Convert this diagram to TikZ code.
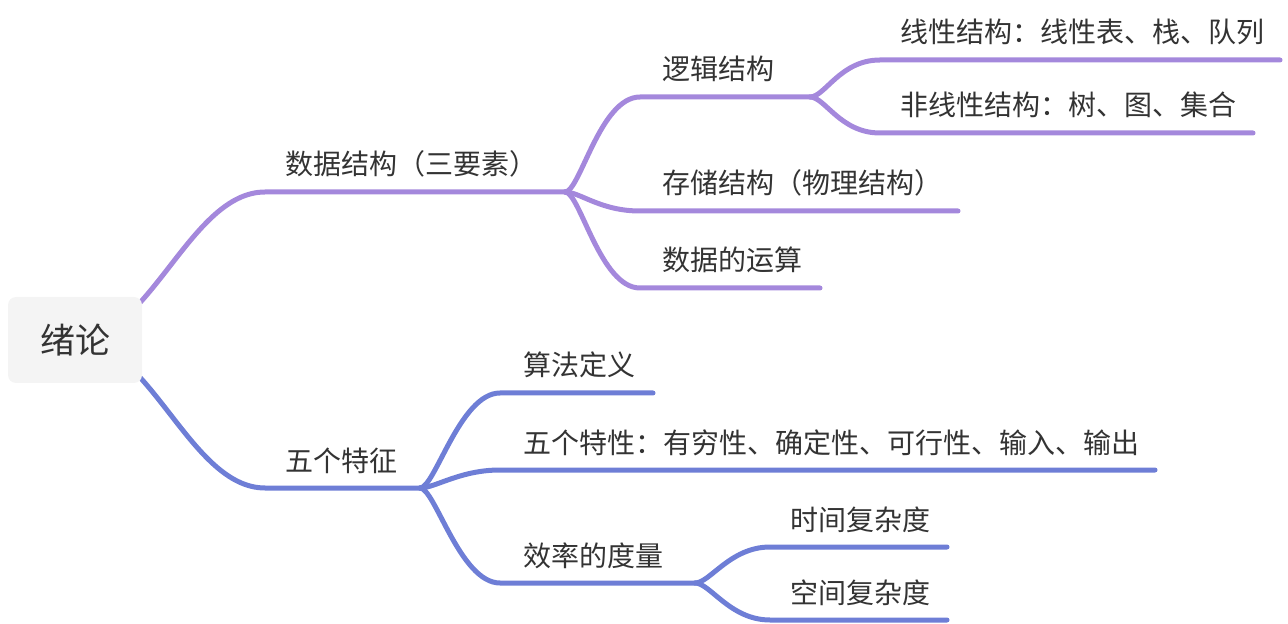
\documentclass[tikz,border=0pt]{standalone}
\usepackage{fontspec}
\setmainfont{Noto Sans CJK SC}
\usetikzlibrary{positioning}
\definecolor{purp}{RGB}{164,136,220}
\definecolor{blu}{RGB}{110,126,214}
\definecolor{txt}{RGB}{51,51,51}
\definecolor{boxfill}{RGB}{244,244,244}

\tikzset{
  topic/.style={anchor=base west, inner sep=0pt, text=txt, font=\fontsize{14}{16}\selectfont},
  rootbox/.style={fill=boxfill, rounded corners=4pt, minimum width=67pt, minimum height=43pt,
    text=txt, font=\fontsize{17.5}{20}\selectfont},
  purpline/.style={draw=purp, line width=2.5pt, line cap=round},
  blueline/.style={draw=blu, line width=2.5pt, line cap=round}
}

\begin{document}
\begin{tikzpicture}[x=0.5pt, y=-0.5pt]
  \useasboundingbox (0,0) rectangle (1288,624);
  \coordinate (rootc) at (75,340);

  % first level
  \coordinate (dsS) at (265,192);  \coordinate (dsE) at (565,192);
  \coordinate (fcS) at (265,488);  \coordinate (fcE) at (420,488);
  \node[topic] (ds) at (285,175) {数据结构（三要素）};
  \node[topic] (fc) at (285,471) {五个特征};

  % data structure
  \coordinate (ljS) at (640,97);   \coordinate (ljE) at (810,97);
  \coordinate (ccS) at (640,211);  \coordinate (ccE) at (958,211);
  \coordinate (ysS) at (640,288);  \coordinate (ysE) at (820,288);
  \node[topic] (lj) at (662,80)  {逻辑结构};
  \node[topic] (cc) at (662,194) {存储结构（物理结构）};
  \node[topic] (ys) at (662,271) {数据的运算};

  \coordinate (xxS) at (880,60);   \coordinate (xxE) at (1280,60);
  \coordinate (fxS) at (880,133);  \coordinate (fxE) at (1253,133);
  \node[topic] (xx) at (900,43)  {线性结构：线性表、栈、队列};
  \node[topic] (fx) at (900,116) {非线性结构：树、图、集合};

  % five features
  \coordinate (dyS) at (500,393);  \coordinate (dyE) at (653,393);
  \coordinate (txS) at (500,470);  \coordinate (txE) at (1155,470);
  \coordinate (xlS) at (500,583);  \coordinate (xlE) at (695,583);
  \node[topic] (dy) at (523,376) {算法定义};
  \node[topic] (tx) at (523,453) {五个特性：有穷性、确定性、可行性、输入、输出};
  \node[topic] (xl) at (523,566) {效率的度量};

  \coordinate (sjS) at (770,547);  \coordinate (sjE) at (947,547);
  \coordinate (kjS) at (770,620);  \coordinate (kjE) at (947,620);
  \node[topic] (sj) at (790,530) {时间复杂度};
  \node[topic] (kj) at (790,603) {空间复杂度};

  % connectors
  \draw[purpline] (rootc) .. controls +(75,0) and +(-75,0) .. (dsS) -- (dsE);
  \draw[blueline] (rootc) .. controls +(75,0) and +(-75,0) .. (fcS) -- (fcE);

  \draw[purpline] (dsE) .. controls +(15,0) and +(-40,0) .. (ljS) -- (ljE);
  \draw[purpline] (dsE) .. controls +(15,0) and +(-40,0) .. (ccS) -- (ccE);
  \draw[purpline] (dsE) .. controls +(15,0) and +(-40,0) .. (ysS) -- (ysE);
  \draw[purpline] (ljE) .. controls +(15,0) and +(-40,0) .. (xxS) -- (xxE);
  \draw[purpline] (ljE) .. controls +(15,0) and +(-40,0) .. (fxS) -- (fxE);

  \draw[blueline] (fcE) .. controls +(15,0) and +(-40,0) .. (dyS) -- (dyE);
  \draw[blueline] (fcE) .. controls +(15,0) and +(-40,0) .. (txS) -- (txE);
  \draw[blueline] (fcE) .. controls +(15,0) and +(-40,0) .. (xlS) -- (xlE);
  \draw[blueline] (xlE) .. controls +(15,0) and +(-40,0) .. (sjS) -- (sjE);
  \draw[blueline] (xlE) .. controls +(15,0) and +(-40,0) .. (kjS) -- (kjE);

  \node[rootbox] (root) at (rootc) {绪论};
\end{tikzpicture}
\end{document}
